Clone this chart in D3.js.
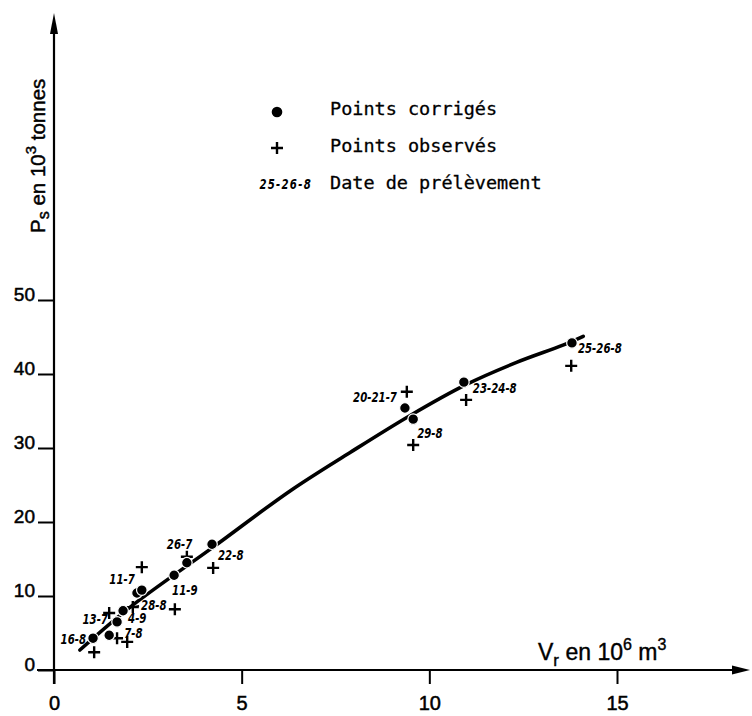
<!DOCTYPE html>
<html>
<head>
<meta charset="utf-8">
<script src="https://cdn.jsdelivr.net/npm/d3@7"></script>
<style>
  html, body { margin: 0; padding: 0; background: #fff; }
  svg { display: block; }
</style>
</head>
<body>
<svg id="chart" width="752" height="716"></svg>
<script>
// Sampling dates (day-month)
const dates = ["16-8", "7-8", "4-9", "28-8", "13-7", "11-7", "11-9", "26-7", "22-8",
               "20-21-7", "29-8", "23-24-8", "25-26-8"];
// Corrected points: Vr (10^6 m3) and Ps (10^3 tonnes)
const corrVr = [1.04, 1.47, 1.68, 1.84, 2.21, 2.34, 3.20, 3.54, 4.21, 9.35, 9.57, 10.92, 13.80];
const corrPs = [4.3, 4.7, 6.5, 8.0, 10.4, 10.8, 12.8, 14.5, 17.0, 35.4, 33.9, 38.9, 44.2];
// Observed points
const obsVr = [1.07, 1.68, 1.95, 2.10, 1.47, 2.34, 3.22, 3.54, 4.24, 9.40, 9.57, 10.98, 13.78];
const obsPs = [2.4, 4.3, 3.8, 8.5, 7.7, 13.9, 8.2, 15.3, 13.8, 37.6, 30.4, 36.5, 41.1];
// Fitted curve Ps = f(Vr)
const curveVr = [0.69, 2.03, 4.24, 6.29, 7.89, 9.49, 10.95, 12.34, 13.56, 14.10];
const curvePs = [2.7, 8.5, 16.6, 24.2, 29.4, 34.4, 38.5, 41.6, 43.9, 45.1];
// Axis ticks
const xTicks = [0, 5, 10, 15];
const yTicks = [0, 10, 20, 30, 40, 50];

// Placement of the date labels relative to their corrected point: [dx, dy, anchor]
const labelPlacement = {
  "16-8": [-7, 6, "end"],
  "7-8": [15, 3, "start"],
  "4-9": [11, 1, "start"],
  "28-8": [18, -1, "start"],
  "13-7": [-29, 31, "end"],
  "11-7": [-7, -6, "end"],
  "11-9": [-2, 20, "start"],
  "26-7": [-20, -14, "start"],
  "22-8": [6, 16, "start"],
  "20-21-7": [-8, -6, "end"],
  "29-8": [4, 19, "start"],
  "23-24-8": [9, 11, "start"],
  "25-26-8": [6, 10, "start"]
};

const svg = d3.select("#chart");
const x = d3.scaleLinear().domain([0, 15]).range([54, 617]);
const y = d3.scaleLinear().domain([0, 50]).range([670, 300]);

const tickFont = "'Liberation Sans', Arial, sans-serif";
const dateFont = "'DejaVu Sans Condensed', 'DejaVu Sans', sans-serif";
const monoFont = "'DejaVu Sans Mono', monospace";
const dateScaleX = 0.78;
const dateSize = 14.5;

// ---- axes ----
const x0 = x(0), yBase = y(0);
const xAxisEnd = 750, yAxisTop = 13;

svg.append("line")
  .attr("x1", 37).attr("x2", xAxisEnd - 10)
  .attr("y1", yBase).attr("y2", yBase)
  .attr("stroke", "#000").attr("stroke-width", 2.2);
svg.append("line")
  .attr("x1", x0).attr("x2", x0)
  .attr("y1", yBase + 14).attr("y2", yAxisTop + 10)
  .attr("stroke", "#000").attr("stroke-width", 2.2);
// arrowheads
svg.append("path")
  .attr("d", `M${xAxisEnd},${yBase} L${xAxisEnd - 18},${yBase - 4.5} L${xAxisEnd - 18},${yBase + 4.5} Z`)
  .attr("fill", "#000");
svg.append("path")
  .attr("d", `M${x0},${yAxisTop} L${x0 - 4},${yAxisTop + 21} L${x0 + 4},${yAxisTop + 21} Z`)
  .attr("fill", "#000");

// x axis ticks and labels
const gx = svg.append("g")
  .attr("transform", `translate(0,${yBase})`)
  .call(d3.axisBottom(x).tickValues(xTicks).tickSize(14).tickFormat(d3.format("d")));
gx.select(".domain").remove();
gx.selectAll(".tick line").attr("stroke", "#000").attr("stroke-width", 2);
gx.selectAll(".tick text")
  .attr("y", 40).attr("dy", 0)
  .attr("font-family", tickFont).attr("font-size", 20)
  .attr("fill", "#000").attr("stroke", "#000").attr("stroke-width", 0.5);

// y axis ticks and labels
const gy = svg.append("g")
  .attr("transform", `translate(${x0},0)`)
  .call(d3.axisLeft(y).tickValues(yTicks).tickSize(16).tickFormat(d3.format("d")));
gy.select(".domain").remove();
gy.selectAll(".tick line").attr("stroke", "#000").attr("stroke-width", 2);
gy.selectAll(".tick text")
  .attr("x", -19).attr("dy", 0).attr("y", 0.5)
  .attr("font-family", tickFont).attr("font-size", 19)
  .attr("fill", "#000").attr("stroke", "#000").attr("stroke-width", 0.5);

// axis titles
const yTitle = svg.append("text")
  .attr("transform", "translate(45,233) rotate(-90)")
  .attr("font-family", tickFont).attr("font-size", 20.5)
  .attr("fill", "#000").attr("stroke", "#000").attr("stroke-width", 0.45);
yTitle.append("tspan").text("P");
yTitle.append("tspan").attr("font-size", 16).attr("dy", 4).text("s");
yTitle.append("tspan").attr("dy", -4).text(" en 10");
yTitle.append("tspan").attr("font-size", 15).attr("dy", -9).text("3");
yTitle.append("tspan").attr("dy", 9).text(" tonnes");

const xTitle = svg.append("text")
  .attr("x", 538).attr("y", 660)
  .attr("font-family", tickFont).attr("font-size", 23)
  .attr("fill", "#000").attr("stroke", "#000").attr("stroke-width", 0.4);
xTitle.append("tspan").text("V");
xTitle.append("tspan").attr("font-size", 17).attr("dy", 6).text("r");
xTitle.append("tspan").attr("dy", -6).text(" en 10");
xTitle.append("tspan").attr("font-size", 16).attr("dy", -10).text("6");
xTitle.append("tspan").attr("dy", 10).text(" m");
xTitle.append("tspan").attr("font-size", 16).attr("dy", -10).text("3");

// ---- fitted curve ----
const curvePts = curveVr.map((v, i) => [v, curvePs[i]]);
svg.append("path")
  .datum(curvePts)
  .attr("d", d3.line().x(d => x(d[0])).y(d => y(d[1])).curve(d3.curveCatmullRom.alpha(0.5)))
  .attr("fill", "none").attr("stroke", "#000").attr("stroke-width", 3.6)
  .attr("stroke-linecap", "round");

// ---- observed points (crosses) ----
const plusSize = 6;
const obs = dates.map((d, i) => ({ date: d, vr: obsVr[i], ps: obsPs[i] }));
svg.append("g").selectAll("path")
  .data(obs)
  .join("path")
  .attr("d", d => {
    const cx = x(d.vr), cy = y(d.ps);
    return `M${cx - plusSize},${cy} H${cx + plusSize} M${cx},${cy - plusSize} V${cy + plusSize}`;
  })
  .attr("stroke", "#000").attr("stroke-width", 2.4).attr("fill", "none");

// ---- corrected points (dots) ----
const corr = dates.map((d, i) => ({ date: d, vr: corrVr[i], ps: corrPs[i] }));
svg.append("g").selectAll("circle")
  .data(corr)
  .join("circle")
  .attr("cx", d => x(d.vr)).attr("cy", d => y(d.ps))
  .attr("r", 5.3)
  .attr("fill", "#000").attr("stroke", "#fff").attr("stroke-width", 1.2);

// ---- date labels (narrow bold italic) ----
svg.append("g").selectAll("text")
  .data(corr)
  .join("text")
  .attr("transform", d => {
    const p = labelPlacement[d.date];
    return `translate(${x(d.vr) + p[0]},${y(d.ps) + p[1]}) scale(${dateScaleX},1)`;
  })
  .attr("text-anchor", d => labelPlacement[d.date][2])
  .attr("font-family", dateFont).attr("font-size", dateSize)
  .attr("font-style", "italic").attr("font-weight", "bold")
  .attr("fill", "#000")
  .text(d => d.date);

// leader for the 28-8 label
const p28 = corr.find(d => d.date === "28-8");
svg.append("line")
  .attr("x1", x(p28.vr) + 6).attr("x2", x(p28.vr) + 16)
  .attr("y1", y(p28.ps) - 3).attr("y2", y(p28.ps) - 5)
  .attr("stroke", "#000").attr("stroke-width", 1.6);

// ---- legend ----
const legend = svg.append("g");
legend.append("circle").attr("cx", 277).attr("cy", 112).attr("r", 5.3).attr("fill", "#000");
legend.append("path")
  .attr("d", `M${277 - plusSize},148 H${277 + plusSize} M277,${148 - plusSize} V${148 + plusSize}`)
  .attr("stroke", "#000").attr("stroke-width", 2.4);
legend.append("text")
  .attr("transform", `translate(312,189) scale(${dateScaleX},1)`)
  .attr("text-anchor", "end")
  .attr("font-family", dateFont).attr("font-size", dateSize)
  .attr("font-style", "italic").attr("font-weight", "bold")
  .attr("letter-spacing", 1.6)
  .text(dates[dates.length - 1]);
const legendTexts = ["Points corrigés", "Points observés", "Date de prélèvement"];
legend.selectAll("text.lt")
  .data(legendTexts)
  .join("text")
  .attr("class", "lt")
  .attr("x", 330)
  .attr("y", (d, i) => [115, 152, 189][i])
  .attr("font-family", monoFont).attr("font-size", 18.5)
  .attr("fill", "#000").attr("stroke", "#000").attr("stroke-width", 0.3)
  .text(d => d);
</script>
</body>
</html>
